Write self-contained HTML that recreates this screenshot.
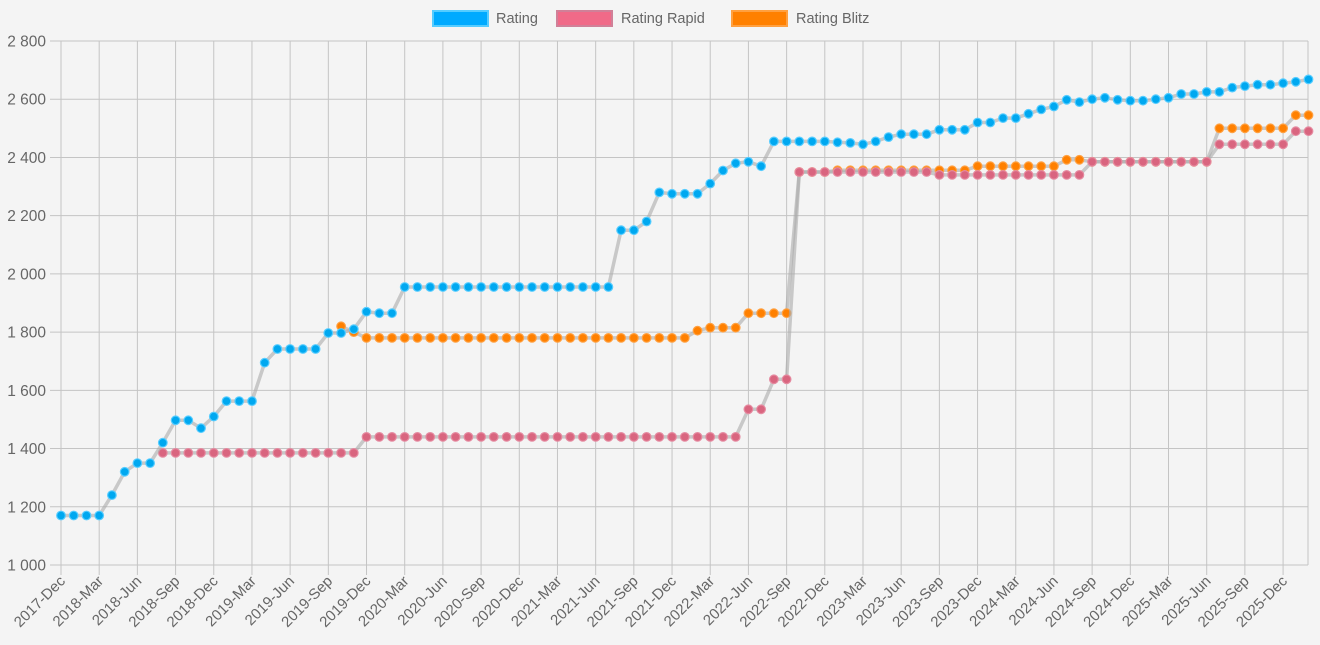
<!DOCTYPE html>
<html><head><meta charset="utf-8"><style>
html,body{margin:0;padding:0;background:#f4f4f4;}
svg{display:block;font-family:"Liberation Sans",sans-serif;}
</style></head><body>
<svg id="c" width="1320" height="645" xmlns="http://www.w3.org/2000/svg"></svg>
<script>
const svg=document.getElementById('c');
const X0=61,DX=12.73,Y0=565,YS=524/1800,XR=1308;
const xf=i=>X0+i*DX, yf=v=>Y0-(v-1000)*YS;
let h='<rect width="1320" height="645" fill="#f4f4f4"/>';
h+='<rect x="433" y="11" width="55" height="15" fill="#00aaff" stroke="#55ccff" stroke-width="2"/><text x="496" y="23" font-size="14.5" fill="#666">Rating</text>';
h+='<rect x="557" y="11" width="55" height="15" fill="#f06a88" stroke="#d08098" stroke-width="2"/><text x="621" y="23" font-size="14.5" fill="#666">Rating Rapid</text>';
h+='<rect x="732" y="11" width="55" height="15" fill="#ff8000" stroke="#ffa040" stroke-width="2"/><text x="796" y="23" font-size="14.5" fill="#666">Rating Blitz</text>';
for(let v=1000;v<=2800;v+=200){const y=yf(v);
h+=`<line x1="50" x2="${XR}" y1="${y}" y2="${y}" stroke="#c4c4c4" stroke-width="1"/>`;
h+=`<text x="46" y="${y+5.5}" font-size="15.5" fill="#666" text-anchor="end">${Math.floor(v/1000)+' '+String(v%1000).padStart(3,'0')}</text>`;}
const mons=['Dec','Mar','Jun','Sep'];
for(let k=0;k<=32;k++){const x=xf(k*3);
h+=`<line x1="${x}" x2="${x}" y1="41" y2="575" stroke="#c4c4c4" stroke-width="1"/>`;
const mi=k%4; const year=mi==0?2017+k/4:2018+Math.floor(k/4);
h+=`<text transform="translate(${x+5},${582}) rotate(-45)" font-size="15" fill="#666" text-anchor="end">${year}-${mons[mi]}</text>`;}
h+=`<line x1="${XR}" x2="${XR}" y1="41" y2="565" stroke="#c4c4c4"/>`;
function run(arr){const o={};arr.forEach(([a,b,v])=>{for(let i=a;i<=b;i++)o[i]=v});return o;}
const R={};[1170,1170,1170,1170,1240,1320,1350,1350,1420,1497,1497,1470,1510,1563,1563,1563,1695,1742,1742,1742,1742,1797,1797,1810,1870,1865,1865].forEach((v,i)=>R[i]=v);
for(let i=27;i<=43;i++)R[i]=1955;
[2150,2150,2180,2280,2275,2275,2275,2310,2355,2380,2385,2370,2455,2455,2455,2455,2455,2452,2450,2445,2455,2470,2480,2480,2480,2495,2495,2495,2520,2520,2535,2535,2550,2565,2575,2598,2590,2600,2605,2598,2595,2595,2600,2605,2618,2618,2625,2625,2640,2645,2650,2650,2655,2660,2668].forEach((v,j)=>R[44+j]=v);
const P=run([[8,23,1385],[24,53,1440],[54,55,1535],[56,57,1638],[58,68,2350],[69,80,2340],[81,90,2385],[91,96,2445],[97,98,2490]]);
const B=run([[22,22,1820],[23,23,1800],[24,49,1780],[50,50,1805],[51,53,1815],[54,57,1865],[58,60,2350],[61,71,2356],[72,78,2370],[79,80,2392],[81,90,2385],[91,96,2500],[97,98,2545]]);
function series(d,fill,stroke){const ks=Object.keys(d).map(Number).sort((a,b)=>a-b);
let pts=ks.map(i=>`${xf(i).toFixed(1)},${yf(d[i]).toFixed(1)}`).join(' ');
let s=`<polyline points="${pts}" fill="none" stroke="rgba(170,170,170,0.6)" stroke-width="3.5" stroke-linejoin="round"/>`;
ks.forEach(i=>{s+=`<circle cx="${xf(i).toFixed(1)}" cy="${yf(d[i]).toFixed(1)}" r="4.3" fill="${fill}" stroke="${stroke}" stroke-width="1.2"/>`});return s;}
h+=series(B,'#ff8000','#ffa040');
h+=series(P,'#d9657f','#e58aa0');
h+=series(R,'#00a8f0','#55ccff');
svg.innerHTML=h;
</script>
</body></html>
